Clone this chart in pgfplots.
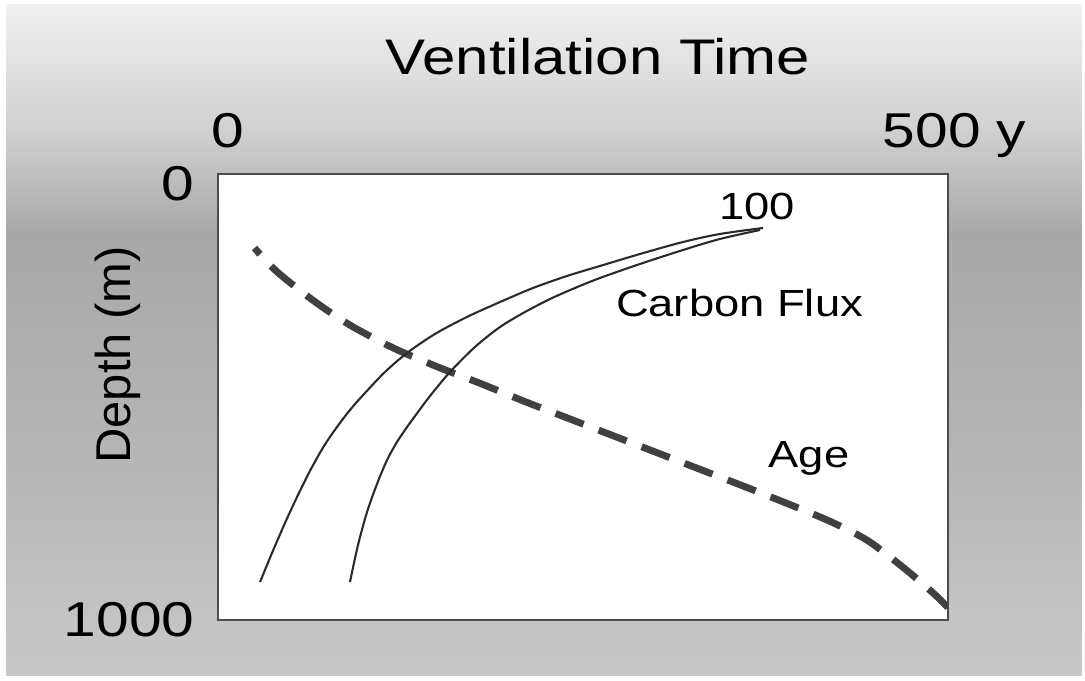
\documentclass[border=0pt]{standalone}
\usepackage{fontspec}
\setmainfont{Liberation Sans}[FakeStretch=1.2]
\newfontfamily\rotfont{Liberation Sans}
\usepackage{pgfplots}
\pgfplotsset{compat=1.18}

\definecolor{bgtop}{HTML}{F0F0F0}
\definecolor{bglight}{HTML}{D2D2D2}
\definecolor{bgdark}{HTML}{A8A8A8}
\definecolor{bgmid}{HTML}{B3B3B3}
\definecolor{bgbot}{HTML}{C8C8C8}
\definecolor{inkline}{HTML}{2A2A2A}
\definecolor{agedash}{HTML}{404040}

% stops live in 25bp..75bp, which tikz stretches over the path
\pgfdeclareverticalshading{bgshade}{100bp}{color(0bp)=(bgbot); color(25bp)=(bgbot);
  color(44bp)=(bgmid); color(58bp)=(bgdark); color(66bp)=(bglight);
  color(75bp)=(bgtop); color(100bp)=(bgtop)}

\begin{document}
\begin{tikzpicture}
  \useasboundingbox (0,0) rectangle (390.6pt,245.16pt);
  \fill[white] (0,0) rectangle (390.6pt,245.16pt);
  \shade[shading=bgshade] (2.16pt,1.8pt) rectangle (389.5pt,243.36pt);

  \begin{axis}[
    at={(78.48pt,21.96pt)}, anchor=south west,
    scale only axis, width=262.8pt, height=160.56pt,
    xmin=0, xmax=500, ymin=0, ymax=1000, y dir=reverse,
    axis background/.style={fill=white},
    axis line style={draw=black!70, line width=1pt},
    major tick length=0pt,
    xtick={0,500}, xticklabels={\hspace{7.2pt}0, \hspace{4.7pt}500 y},
    xticklabel pos=upper,
    xticklabel style={anchor=base, yshift=9.4pt, inner sep=0pt,
      font=\fontsize{17.6}{20}\selectfont},
    ytick={0,1000}, yticklabels={\raisebox{-9.4pt}{0}, \raisebox{-6.1pt}{1000}\hspace{2.9pt}},
    yticklabel style={anchor=base east, xshift=-8.3pt, inner sep=0pt,
      font=\fontsize{17.6}{20}\selectfont},
  ]
    % Age (dashed)
    \addplot[agedash, line width=2.5pt, smooth, dash pattern=on 10.8pt off 5.8pt, dash phase=7.8pt]
      coordinates {(25,166)(40,218)(65,283)(90,338)(120,390)(150,432)(180,470)(210,510)
        (240,548)(270,586)(300,624)(330,662)(360,700)(390,739)(420,780)(445,822)
        (470,884)(490,940)(500,972)};
    % Carbon flux curves
    \addplot[inkline, line width=0.75pt, smooth]
      coordinates {(28.8,914.8)(37.0,849.8)(45.9,782.5)(54.8,719.7)(63.7,661.4)(72.6,609.9)
        (81.5,567.3)(90.4,529.1)(100.7,491.0)(114.4,443.9)(129.5,401.3)(148.6,358.7)
        (170.5,320.6)(193.2,287.0)(215.8,255.6)(239.0,228.7)(261.6,206.3)(289.0,179.4)
        (318.5,152.5)(343.8,134.5)(373.3,121.1)};
    \addplot[inkline, line width=0.75pt, smooth]
      coordinates {(90.4,914.8)(95.9,831.8)(102.1,757.8)(108.9,695.1)(115.8,641.3)
        (122.6,600.9)(129.5,567.3)(137.0,533.6)(145.2,497.8)(158.9,443.9)(176.0,387.9)
        (193.2,343.0)(210.3,309.4)(227.4,280.3)(244.5,255.6)(261.6,233.2)(289.0,201.8)
        (318.5,170.4)(343.8,145.7)(371.2,125.6)};

    \node[anchor=base, font=\fontsize{13.6}{16}\selectfont] at (axis cs:369.2,103) {100};
    \node[anchor=base, font=\fontsize{13.6}{16}\selectfont] at (axis cs:357.2,320.6) {Carbon Flux};
    \node[anchor=base, font=\fontsize{13.6}{16}\selectfont] at (axis cs:404.8,659) {Age};
  \end{axis}

  \node[anchor=base, font=\fontsize{18}{21}\selectfont] at (215.28pt,218.16pt) {Ventilation Time};
  \node[anchor=base, rotate=90, font=\rotfont\fontsize{17.6}{20}\selectfont] at (46.8pt,117.36pt) {Depth (m)};
\end{tikzpicture}
\end{document}
